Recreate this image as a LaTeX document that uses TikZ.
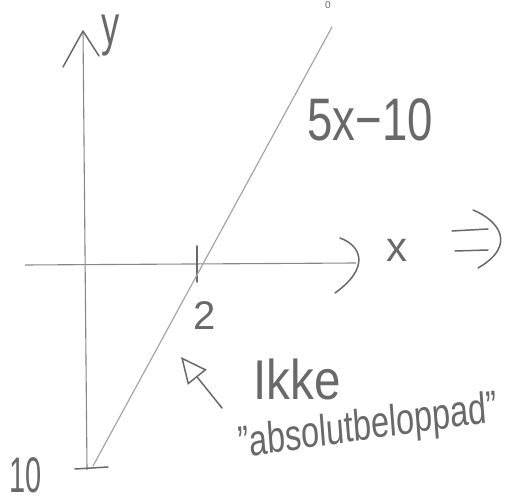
\documentclass[tikz,border=0pt]{standalone}
\usepackage{fontspec}
\setmainfont{Liberation Sans}
\usetikzlibrary{arrows.meta}
\definecolor{sketchInk}{RGB}{105,105,105}
\definecolor{sketchAxis}{RGB}{135,135,135}
\definecolor{sketchGraph}{RGB}{165,165,165}

\begin{document}
\begin{tikzpicture}[
  x=1pt,y=-1pt,
  hand/.style={text=sketchInk,inner sep=0pt},
  axis/.style={draw=sketchAxis,line width=1.1pt},
  graph/.style={draw=sketchGraph,line width=1.2pt},
  stroke/.style={draw=sketchInk,line width=1.5pt,line cap=round,line join=round},
  pointer/.style={stroke,-{Triangle[open,length=26pt,width=24pt,line width=1.5pt]}}
]
\useasboundingbox (0,0) rectangle (512,502);

% axes
\coordinate (xstart) at (25,265);
\coordinate (xend) at (356,263);
\coordinate (ystart) at (87,470);
\coordinate (yend) at (83,31);
\draw[axis] (xstart) -- (xend);
\draw[axis] (ystart) -- (yend);
\draw[stroke] (63,67) -- (yend) -- (99,56);
\draw[stroke] (340,238) .. controls (362,246) and (370,268) .. (335,293);

% ticks
\draw[stroke] (197,246) -- (197,282);
\draw[stroke] (75,469) -- (108,467);

% the line 5x-10
\coordinate (gbot) at (93,466);
\coordinate (gtop) at (332,27);
\draw[graph] (gbot) -- (gtop);

% implies
\draw[stroke] (452,231) -- (488,229);
\draw[stroke] (455,251) -- (488,250);
\draw[stroke] (473,210) .. controls (498,220) and (518,245) .. (478,268);

% labels
\node[hand,font=\fontsize{10}{10}\selectfont] (topzero) at (328,5) {0};
\node[hand,font=\fontsize{56}{56}\selectfont,xscale=0.65] (ylabel) at (111,36) {y};
\node[hand,font=\fontsize{42}{42}\selectfont] (xlabel) at (397,250) {x};
\node[hand,font=\fontsize{60}{60}\selectfont,xscale=0.76] (graphlabel) at (370,120) {5x−10};
\node[hand,font=\fontsize{40}{40}\selectfont] (two) at (205,316) {2};
\node[hand,font=\fontsize{50}{50}\selectfont,xscale=0.58] (ten) at (26,475) {10};
\node[hand,font=\fontsize{56}{56}\selectfont,xscale=0.85] (ikke) at (297,379) {Ikke};
\node[hand,font=\fontsize{44}{44}\selectfont,xscale=0.74,rotate=6] (absnote) at (368,428) {"absolutbeloppad"};

% pointer to the line
\coordinate (ptail) at (222,408);
\coordinate (ptip) at (181,357);
\draw[pointer] (ptail) -- (ptip);

\end{tikzpicture}
\end{document}
